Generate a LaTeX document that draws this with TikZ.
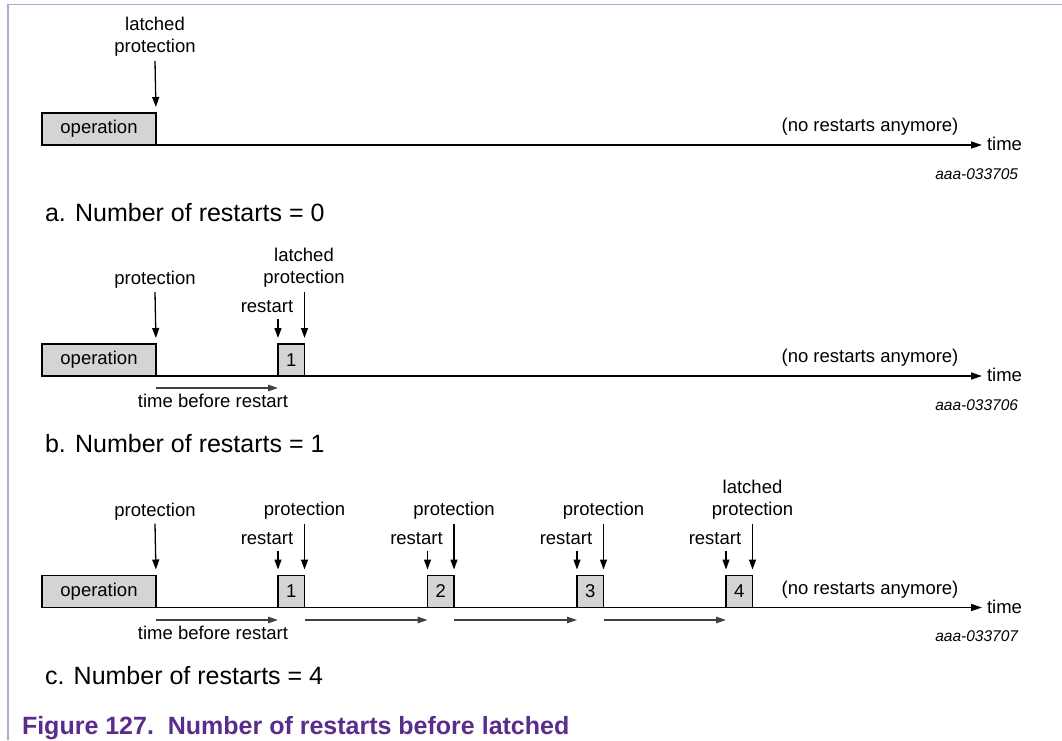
\documentclass[tikz,border=0pt]{standalone}
\usepackage{fontspec}
\setmainfont{Liberation Sans}
\usetikzlibrary{arrows.meta}

\definecolor{framecol}{HTML}{B9A6D0}
\definecolor{capcol}{HTML}{5A2D8C}
\definecolor{boxfill}{HTML}{D4D4D4}

\tikzset{
  every node/.style={inner sep=0pt, outer sep=0pt},
  lbl/.style={font=\fontsize{18.5}{22}\selectfont, align=center},
  tag/.style={font=\fontsize{15.5}{18}\selectfont\itshape},
  sub/.style={font=\fontsize{25}{30}\selectfont},
  caption/.style={font=\fontsize{25}{30}\selectfont\bfseries, text=capcol},
  opbox/.style={draw, fill=boxfill, line width=1.4pt, minimum width=114pt,
    minimum height=32pt, font=\fontsize{18.5}{22}\selectfont},
  numbox/.style={draw, fill=boxfill, line width=1.4pt, minimum width=26.5pt,
    minimum height=32pt, font=\fontsize{18.5}{22}\selectfont},
  axisline/.style={line width=1.5pt, -{Triangle[length=11pt,width=7pt]}},
  arr/.style={line width=1.3pt, -{Triangle[length=10pt,width=7pt]}, shorten >=6pt},
  span/.style={line width=1.3pt, black!75, -{Triangle[length=10pt,width=6.5pt]}},
}

\begin{document}
\begin{tikzpicture}[x=1pt,y=-1pt]
\useasboundingbox (0,0) rectangle (1062,740);

% page frame
\draw[framecol, line width=1.5pt] (1062,4.5) -- (8,4.5) -- (8,740);

% ---------- a. no restarts ----------
\begin{scope}[shift={(0,145)}]
  \node[opbox, anchor=south west] (opA) at (42,0) {operation};
  \coordinate (endA) at (982,0);
  \draw[axisline] (opA.south west) -- (endA);
  \node[lbl, anchor=west] (timeA) at (987,-1) {time};
  \node[lbl] (noA) at (870,-18) {(no restarts anymore)};
  \node[tag, anchor=east] (tagA) at (1018,29) {aaa-033705};
  \node[sub, anchor=west] (subA) at (45,68) {a. Number of restarts = 0};
  \node[lbl] (latA) at (155,-108) {latched\\protection};
  \coordinate (latAs) at (155,-84);
  \draw[arr] (latAs) -- (opA.north east);
\end{scope}

% ---------- b. one restart ----------
\begin{scope}[shift={(0,376)}]
  \node[opbox, anchor=south west] (opB) at (42,0) {operation};
  \node[numbox, anchor=south west] (bB1) at (278,0) {1};
  \coordinate (endB) at (982,0);
  \draw[axisline] (opB.south west) -- (endB);
  \node[lbl, anchor=west] (timeB) at (987,-1) {time};
  \node[lbl] (noB) at (870,-18) {(no restarts anymore)};
  \node[tag, anchor=east] (tagB) at (1018,29) {aaa-033706};
  \node[sub, anchor=west] (subB) at (45,68) {b. Number of restarts = 1};
  % first protection
  \node[lbl] (protB) at (155,-96) {protection};
  \coordinate (protBs) at (155,-84);
  \draw[arr] (protBs) -- (opB.north east);
  % restart and latched protection
  \node[lbl] (rstB) at (267,-69) {restart};
  \coordinate (rstBs) at (278,-57);
  \draw[arr] (rstBs) -- (bB1.north west);
  \node[lbl] (latB) at (304,-108) {latched\\protection};
  \coordinate (latBs) at (bB1.east |- 0,-84);
  \draw[arr] (latBs) -- (bB1.north east);
  % time before restart
  \coordinate (spB0) at (opB.east |- 0,12);
  \coordinate (spB1) at (bB1.west |- 0,12);
  \draw[span] (spB0) -- (spB1);
  \node[lbl] (tbrB) at (213,25) {time before restart};
\end{scope}

% ---------- c. four restarts ----------
\begin{scope}[shift={(0,607.5)}]
  \node[opbox, anchor=south west] (opC) at (42,0) {operation};
  \coordinate (endC) at (982,0);
  \foreach \k/\xx in {1/278,2/427.5,3/577,4/726}{
    \node[numbox, anchor=south west] (bC\k) at (\xx,0) {\k};
  }
  \draw[axisline] (opC.south west) -- (endC);
  \node[lbl, anchor=west] (timeC) at (987,-1) {time};
  \node[lbl] (noC) at (870,-18) {(no restarts anymore)};
  \node[tag, anchor=east] (tagC) at (1018,29) {aaa-033707};
  \node[sub, anchor=west] (subC) at (45,68.5) {c. Number of restarts = 4};
  % first protection
  \node[lbl] (protC0) at (155,-96) {protection};
  \coordinate (protC0s) at (155,-84);
  \draw[arr] (protC0s) -- (opC.north east);
  % restarts and the protections that follow them
  \foreach \k in {1,2,3,4}{
    \node[lbl, anchor=center] (rstC\k) at ([xshift=-11pt]bC\k.west |- 0,-69) {restart};
    \coordinate (rstC\k s) at (bC\k.west |- 0,-57);
    \draw[arr] (rstC\k s) -- (bC\k.north west);
    \coordinate (protC\k s) at (bC\k.east |- 0,-84);
    \draw[arr] (protC\k s) -- (bC\k.north east);
  }
  \foreach \k in {1,2,3}{
    \node[lbl] (protC\k) at (bC\k.east |- 0,-97) {protection};
  }
  \node[lbl] (latC) at (bC4.east |- 0,-108) {latched\\protection};
  % time before each restart
  \coordinate (spC0a) at (opC.east |- 0,12.5);
  \coordinate (spC0b) at (bC1.west |- 0,12.5);
  \draw[span] (spC0a) -- (spC0b);
  \foreach \k/\n in {1/2,2/3,3/4}{
    \coordinate (spC\k a) at (bC\k.east |- 0,12.5);
    \coordinate (spC\k b) at (bC\n.west |- 0,12.5);
    \draw[span] (spC\k a) -- (spC\k b);
  }
  \node[lbl] (tbrC) at (213,25.5) {time before restart};
\end{scope}

% figure caption
\node[caption, anchor=base west] (cap) at (22,734) {Figure 127.\ \ Number of restarts before latched};

\end{tikzpicture}
\end{document}
